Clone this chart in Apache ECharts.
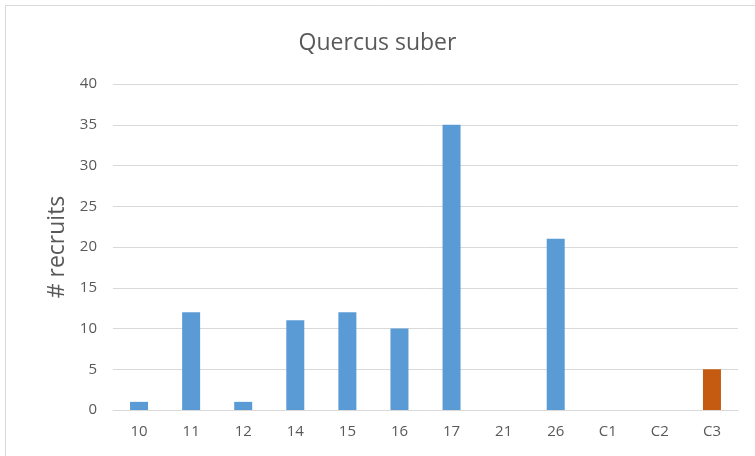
<!DOCTYPE html>
<html>
<head>
<meta charset="utf-8">
<script src="https://cdn.jsdelivr.net/npm/echarts@6/dist/echarts.min.js"></script>
<style>
    body { margin: 0; background: #fff; }
    #chart { width: 755px; height: 456px; }
</style>
</head>
<body>
<div id="chart"></div>
<script>
// plot labels
var categories = ['10', '11', '12', '14', '15', '16', '17', '21', '26', 'C1', 'C2', 'C3'];
var recruits = [1, 12, 1, 11, 12, 10, 35, 0, 21, 0, 0, 5];
// controls are drawn in orange
var controlCats = ['C3'];
var yTicks = [0, 5, 10, 15, 20, 25, 30, 35, 40];

var blue = '#5B9BD5';
var orange = '#C55A11';
var textColor = '#595959';

var chart = echarts.init(document.getElementById('chart'));

chart.setOption({
    animation: false,
    title: {
        text: 'Quercus suber',
        left: 'center',
        top: 27,
        textStyle: { fontFamily: 'Open Sans', fontSize: 23, fontWeight: 'normal', color: textColor }
    },
    graphic: [{
        type: 'rect',
        shape: { x: 5.5, y: 5.5, width: 800, height: 500 },
        style: { fill: 'none', stroke: '#D9D9D9', lineWidth: 1 }
    }],
    grid: { left: 113, right: 17, top: 84, bottom: 46 },
    xAxis: {
        type: 'category',
        data: categories,
        axisLine: { lineStyle: { color: '#D9D9D9' } },
        axisTick: { show: false },
        axisLabel: { color: textColor, fontFamily: 'Open Sans', fontSize: 15, margin: 14 }
    },
    yAxis: {
        type: 'value',
        min: yTicks[0],
        max: yTicks[yTicks.length - 1],
        interval: 5,
        name: '# recruits',
        nameLocation: 'middle',
        nameGap: 44,
        nameTextStyle: { color: textColor, fontFamily: 'Open Sans', fontSize: 23 },
        axisLine: { show: false },
        axisTick: { show: false },
        splitLine: { lineStyle: { color: '#D9D9D9' } },
        axisLabel: { color: textColor, fontFamily: 'Open Sans', fontSize: 15, margin: 16 }
    },
    series: [{
        type: 'bar',
        barWidth: 18,
        data: recruits.map(function (v, i) {
            return {
                value: v,
                itemStyle: { color: controlCats.indexOf(categories[i]) >= 0 ? orange : blue }
            };
        })
    }]
});
</script>
</body>
</html>
